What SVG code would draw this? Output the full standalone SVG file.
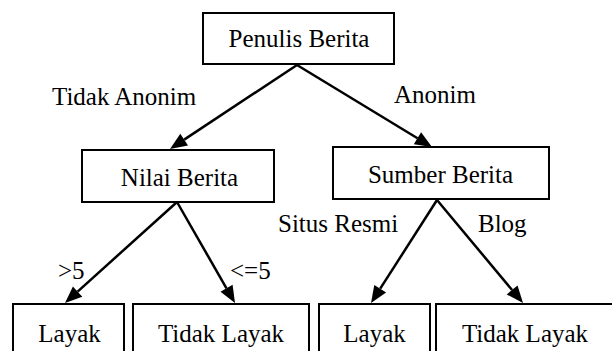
<svg xmlns="http://www.w3.org/2000/svg" width="612" height="351" viewBox="0 0 612 351" font-family="Liberation Serif" font-size="25">
  <defs>
    <style>
      .box { fill: #ffffff; stroke: #000000; stroke-width: 2; }
      .edge { stroke: #000000; stroke-width: 2.5; fill: none; }
      .head { fill: #000000; stroke: none; }
    </style>
  </defs>
  <rect width="612" height="351" fill="#ffffff"/>

  <!-- edges: each line stops at the base of its filled arrowhead -->
  <g id="connectors">
    <line class="edge" x1="297" y1="65" x2="184.2" y2="139.6"/>
    <polygon class="head" points="170,149 188,145.5 180.3,133.8"/>
    <line class="edge" x1="297" y1="65" x2="417.5" y2="138.2"/>
    <polygon class="head" points="432,147 413.8,144.2 421.1,132.2"/>
    <line class="edge" x1="177" y1="202" x2="77.6" y2="291.6"/>
    <polygon class="head" points="65,303 72.9,286.4 82.3,296.8"/>
    <line class="edge" x1="177" y1="202" x2="226.5" y2="288.3"/>
    <polygon class="head" points="235,303 220.5,291.8 232.6,284.8"/>
    <line class="edge" x1="437" y1="200" x2="380.2" y2="288.7"/>
    <polygon class="head" points="371,303 374.3,284.9 386.1,292.5"/>
    <line class="edge" x1="437" y1="200" x2="512.1" y2="290"/>
    <polygon class="head" points="523,303 506.7,294.4 517.5,285.5"/>
    <text x="52" y="105" font-family="Liberation Serif" font-size="25">Tidak Anonim</text>
    <text x="394" y="103" font-family="Liberation Serif" font-size="25">Anonim</text>
    <text x="278" y="232" font-family="Liberation Serif" font-size="25">Situs Resmi</text>
    <text x="478" y="232" font-family="Liberation Serif" font-size="25">Blog</text>
    <text x="58" y="279" font-family="Liberation Serif" font-size="25">&gt;5</text>
    <text x="230" y="279" font-family="Liberation Serif" font-size="25">&lt;=5</text>
  </g>

  <g id="penulis-berita">
    <rect class="box" x="203" y="13" width="191" height="51"/>
    <text x="299" y="47" font-family="Liberation Serif" font-size="25" text-anchor="middle">Penulis Berita</text>
  </g>
  <g id="nilai-berita">
    <rect class="box" x="82" y="150" width="192" height="52"/>
    <text x="179.5" y="186" font-family="Liberation Serif" font-size="25" text-anchor="middle">Nilai Berita</text>
  </g>
  <g id="sumber-berita">
    <rect class="box" x="333" y="147" width="216" height="52"/>
    <text x="440.5" y="183" font-family="Liberation Serif" font-size="25" text-anchor="middle">Sumber Berita</text>
  </g>
  <g id="layak-1">
    <rect class="box" x="13" y="304" width="111" height="60"/>
    <text x="69.5" y="342" font-family="Liberation Serif" font-size="25" text-anchor="middle">Layak</text>
  </g>
  <g id="tidak-layak-1">
    <rect class="box" x="133" y="304" width="176" height="60"/>
    <text x="221" y="342" font-family="Liberation Serif" font-size="25" text-anchor="middle">Tidak Layak</text>
  </g>
  <g id="layak-2">
    <rect class="box" x="319" y="304" width="111" height="60"/>
    <text x="374.5" y="342" font-family="Liberation Serif" font-size="25" text-anchor="middle">Layak</text>
  </g>
  <g id="tidak-layak-2">
    <rect class="box" x="436" y="304" width="190" height="60"/>
    <text x="525" y="342" font-family="Liberation Serif" font-size="25" text-anchor="middle">Tidak Layak</text>
  </g>
</svg>
